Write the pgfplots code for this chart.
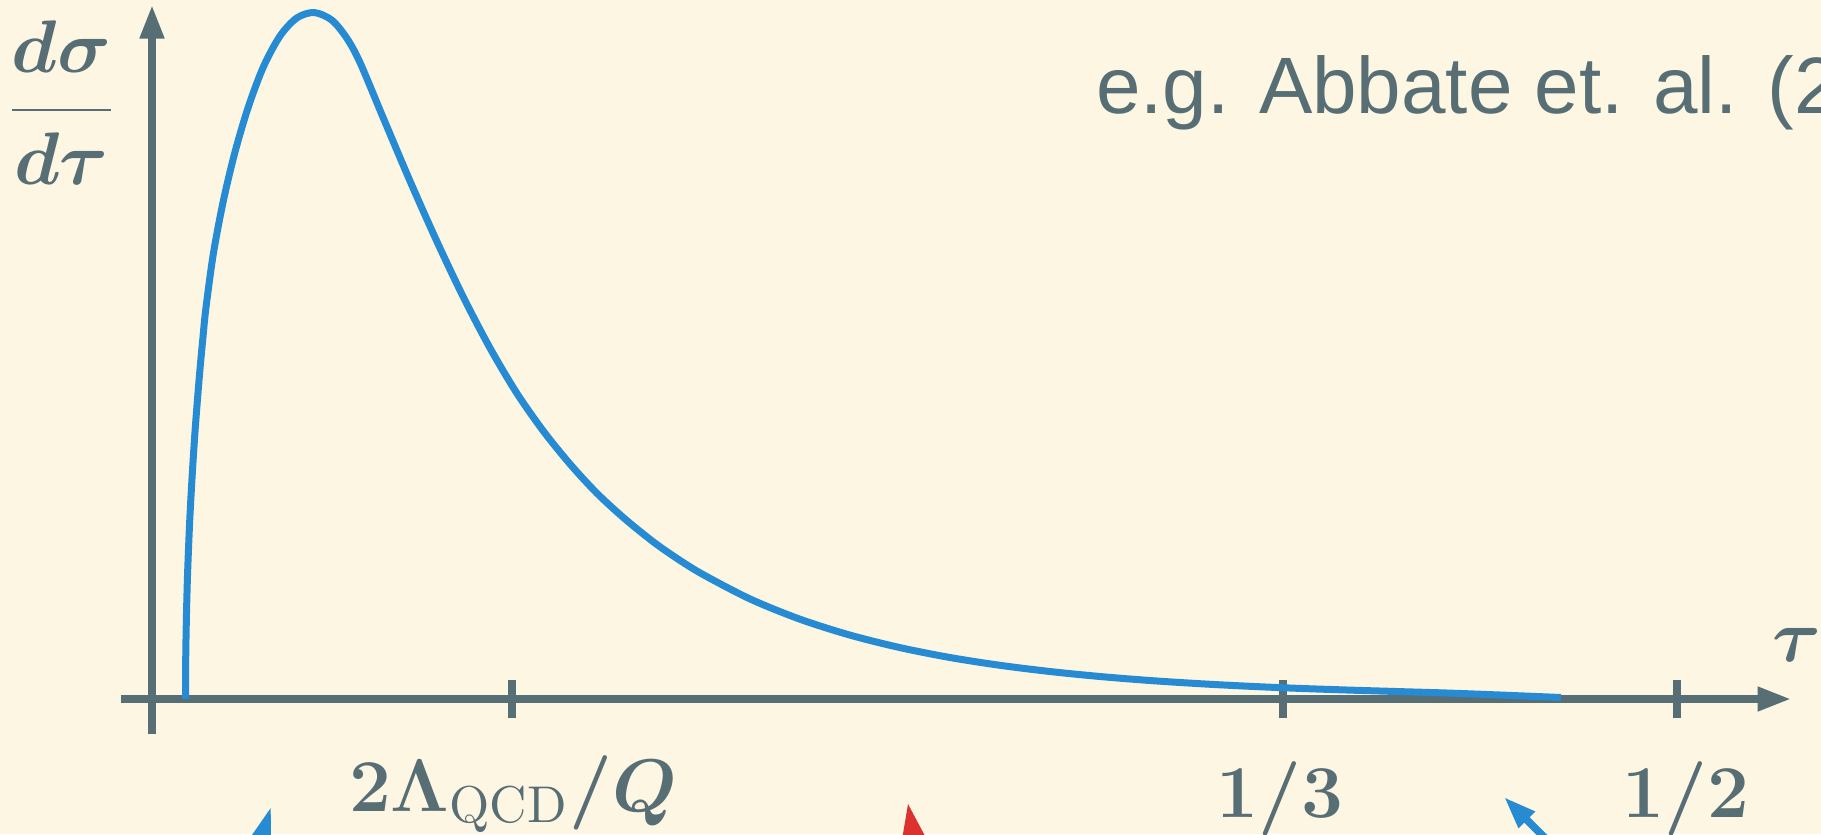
\documentclass[border=0pt]{standalone}
\usepackage[no-math]{fontspec}
\newfontfamily\arialfont{Liberation Sans}
\usepackage{graphicx}
\usepackage{pgfplots}
\pgfplotsset{compat=1.18}
\usetikzlibrary{arrows.meta}
\definecolor{bgc}{HTML}{FDF6E3}
\definecolor{base01}{HTML}{586E75}
\definecolor{sblue}{HTML}{268BD2}
\definecolor{sred}{HTML}{DC322F}
\newcommand{\mfont}{\fontsize{14.4pt}{18pt}\selectfont\boldmath}
\newcommand{\ml}[1]{\scalebox{1.035}{#1}}
\begin{document}
\begin{tikzpicture}
\useasboundingbox (0,0) rectangle (364.2pt,166.8pt);
\fill[bgc] (0,0) rectangle (364.2pt,166.8pt);
\clip (0,0) rectangle (364.2pt,166.8pt);
\begin{axis}[
  at={(24.2pt,20pt)}, anchor=south west,
  x=0.2pt, y=0.2pt,
  xmin=-31, xmax=1639, ymin=-35, ymax=694,
  axis lines*=middle,
  axis line style={line width=1.5pt, color=base01, -{Triangle[length=6.7pt,width=4.6pt]}},
  xtick={360,1131,1525}, xticklabels={}, ytick=\empty,
  tick align=center, major tick length=7.6pt,
  xtick style={line width=1.5pt, color=base01},
  clip=false,
]
\addplot[sblue, line width=1.4pt, smooth, tension=0.5] coordinates {
(33.5,0) (33.6,30) (34.0,60) (34.6,90) (35.4,120) (36.5,150) (37.8,180)
(39.4,210) (41.2,240) (43.2,270) (45.5,300) (48,330) (50.8,360) (53.8,390)
(61.3,445) (71.3,498) (83,547) (96.3,592) (111.3,632) (128,663) (144.7,681)
(162,686.5) (179.7,679) (194.7,661) (208,636.5) (231.3,581) (258,518)
(284.7,458) (311.3,402) (338,351) (364.7,306) (391.3,268) (418,235)
(444.7,206) (471.3,181.5) (498,159.7) (518,145.3) (548,126.2) (598,100.1)
(648,79.8) (698,63.9) (748,51.4) (798,41.5) (848,33.7) (898,27.5) (948,22.5)
(998,18.5) (1048,15.3) (1098,12.7) (1148,10.6) (1198,8.9) (1248,7.4)
(1298,5.9) (1348,4.0) (1409,1.5)
};
% partial arrows at the bottom edge
\addplot[draw=none, fill=sblue] coordinates {(118.7,-109) (119,-151) (89.6,-151)} -- cycle;
\addplot[draw=none, fill=sred] coordinates {(756,-105) (748.3,-151) (780.5,-151)} -- cycle;
\addplot[sblue, line width=1.5pt, -{Triangle[length=6.5pt,width=4.3pt]}] coordinates {(1428,-174) (1352,-98)};
% labels
\node[anchor=base, inner sep=0pt, text=base01, font=\mfont] at (axis cs:-90.5,570.4)
  {\ml{$\displaystyle\frac{d\sigma\rule[-0.36em]{0pt}{0.36em}}{\rule{0pt}{0.87em}d\tau}$}};
\node[anchor=base, inner sep=0pt, text=base01, font=\mfont] at (axis cs:1645,38) {\ml{$\tau$}};
\node[anchor=base, inner sep=0pt, text=base01, font=\mfont] at (axis cs:361,-112)
  {\ml{$2\mathbf{\Lambda}_{\hbox{\fontsize{10pt}{12pt}\selectfont QCD}}/Q$}};
\node[anchor=base, inner sep=0pt, text=base01, font=\mfont] at (axis cs:1128,-118) {\ml{$1/3$}};
\node[anchor=base, inner sep=0pt, text=base01, font=\mfont] at (axis cs:1534,-118) {\ml{$1/2$}};
\node[anchor=base west, inner sep=0pt, text=base01, font=\arialfont\fontsize{16pt}{19pt}\selectfont]
  at (axis cs:943,586) {e.g. Abbate et. al. (2011)};
\end{axis}
\end{tikzpicture}
\end{document}
